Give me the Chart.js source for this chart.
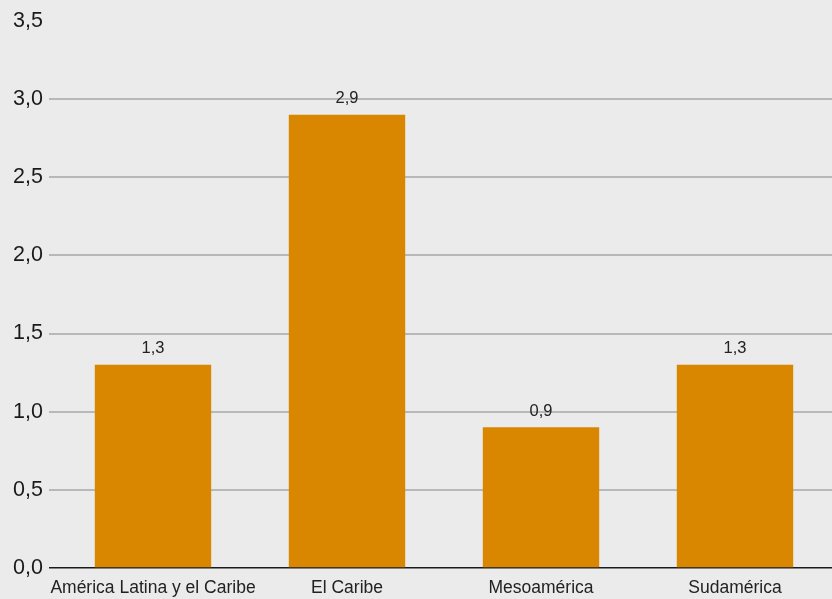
<!DOCTYPE html>
<html>
<head>
<meta charset="utf-8">
<script src="https://cdn.jsdelivr.net/npm/chart.js@4/dist/chart.umd.min.js"></script>
<style>
  html, body { margin: 0; padding: 0; background: #ebebeb; }
  canvas { display: block; }
</style>
</head>
<body>
<canvas id="barChart" width="832" height="599"></canvas>
<script>
// data
const categories = ["América Latina y el Caribe", "El Caribe", "Mesoamérica", "Sudamérica"];
const values = [1.3, 2.9, 0.9, 1.3];
const yTicks = [0, 0.5, 1.0, 1.5, 2.0, 2.5, 3.0, 3.5];

const fmt = (v) => v.toFixed(1).replace(".", ",");

// writes the value above each bar
const barLabels = {
  id: "barLabels",
  afterDatasetsDraw(chart) {
    const ctx = chart.ctx;
    const meta = chart.getDatasetMeta(0);
    ctx.save();
    ctx.font = "16.5px 'Liberation Sans', Arial, sans-serif";
    ctx.fillStyle = "#222222";
    ctx.textAlign = "center";
    ctx.textBaseline = "bottom";
    meta.data.forEach((bar, i) => {
      ctx.fillText(fmt(values[i]), bar.x, bar.y - 8);
    });
    ctx.restore();
  },
};

const ctx = document.getElementById("barChart");
new Chart(ctx, {
  type: "bar",
  data: {
    labels: categories,
    datasets: [
      {
        data: values,
        backgroundColor: "#d98600",
        borderWidth: 0,
        categoryPercentage: 0.6,
        barPercentage: 1.0,
      },
    ],
  },
  options: {
    responsive: false,
    animation: false,
    layout: { padding: { top: 21, right: 0, left: 0, bottom: 0 } },
    plugins: {
      legend: { display: false },
      tooltip: { enabled: false },
    },
    scales: {
      x: {
        afterFit: (scale) => { scale.height = 31; },
        grid: { display: false, drawTicks: false },
        border: { display: false },
        ticks: {
          color: "#222222",
          font: { family: "'Liberation Sans', Arial, sans-serif", size: 17.5 },
          padding: 10,
          maxRotation: 0,
          autoSkip: false,
        },
      },
      y: {
        min: 0,
        max: 3.5,
        afterFit: (scale) => { scale.width = 56; },
        afterBuildTicks: (scale) => { scale.ticks = yTicks.map((v) => ({ value: v })); },
        border: { display: false },
        grid: {
          lineWidth: (c) => (c.tick && c.tick.value === 0 ? 1.5 : 2),
          color: (c) => {
            if (!c.tick) return "#b5b9b9";
            if (c.tick.value === 0) return "#1a1a1a";
            if (c.tick.value === 3.5) return "rgba(0,0,0,0)";
            return "#b5b9b9";
          },
          tickLength: 7,
        },
        ticks: {
          color: "#1a1a1a",
          font: { family: "'Liberation Sans', Arial, sans-serif", size: 21.5 },
          padding: 6,
          callback: (v) => fmt(v),
        },
      },
    },
  },
  plugins: [barLabels],
});
</script>
</body>
</html>
